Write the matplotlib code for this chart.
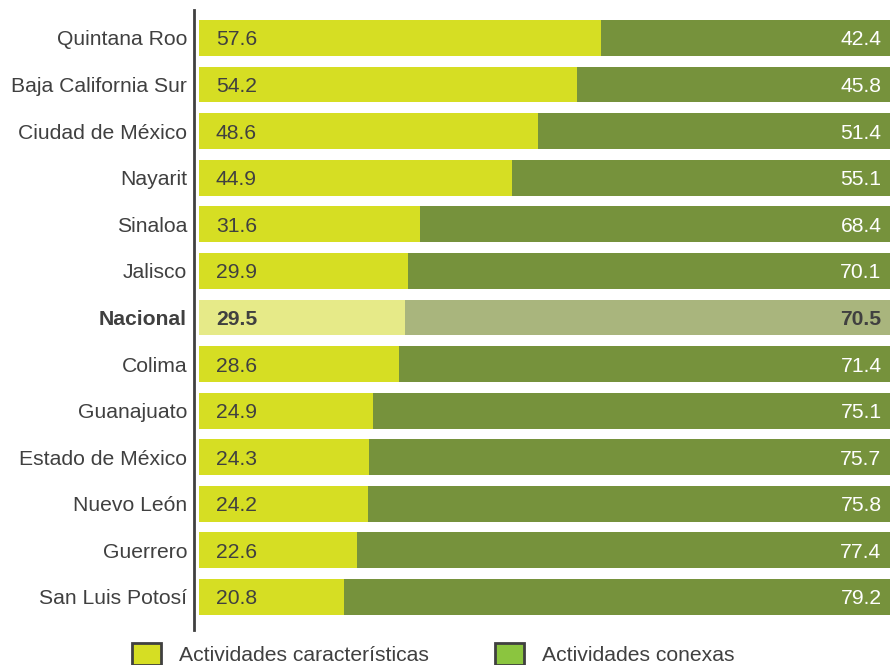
import matplotlib.pyplot as plt
from matplotlib.patches import Patch

plt.rcParams['font.family'] = ['Liberation Sans', 'DejaVu Sans']

estados = ['Quintana Roo', 'Baja California Sur', 'Ciudad de México', 'Nayarit',
           'Sinaloa', 'Jalisco', 'Nacional', 'Colima', 'Guanajuato',
           'Estado de México', 'Nuevo León', 'Guerrero', 'San Luis Potosí']
caracteristicas = [57.6, 54.2, 48.6, 44.9, 31.6, 29.9, 29.5, 28.6, 24.9, 24.3, 24.2, 22.6, 20.8]
conexas = [42.4, 45.8, 51.4, 55.1, 68.4, 70.1, 70.5, 71.4, 75.1, 75.7, 75.8, 77.4, 79.2]

amarillo, verde = '#D6DE23', '#76923C'
amarillo_nac, verde_nac = '#E6EA88', '#A9B57D'
gris = '#404040'
fs = 15.2

fig = plt.figure(figsize=(8.9, 6.65), dpi=100)
ax = fig.add_axes([194 / 890, 1 - 630 / 665, 696 / 890, 620 / 665])

for i, (est, a, b) in enumerate(zip(estados, caracteristicas, conexas)):
    nac = est == 'Nacional'
    ax.barh(i, a, height=0.77, color=amarillo_nac if nac else amarillo)
    ax.barh(i, b, left=a, height=0.77, color=verde_nac if nac else verde)
    w = 'bold' if nac else 'normal'
    ax.text(2.4, i, f'{a:.1f}', ha='left', va='center_baseline', fontsize=fs,
            color=gris, fontweight=w)
    ax.text(97.8, i, f'{b:.1f}', ha='right', va='center_baseline', fontsize=fs,
            color=gris if nac else 'white', fontweight=w)

ax.set_xlim(-0.72, 99.0)
ax.set_ylim(12.71, -0.6)
ax.set_yticks(range(len(estados)))
ax.set_yticklabels(estados, fontsize=fs, color=gris, va='center_baseline')
for lbl in ax.get_yticklabels():
    if lbl.get_text() == 'Nacional':
        lbl.set_fontweight('bold')
ax.tick_params(axis='y', length=0, pad=5)
ax.set_xticks([])
for s in ['top', 'right', 'bottom']:
    ax.spines[s].set_visible(False)
ax.spines['left'].set_color(gris)
ax.spines['left'].set_linewidth(2)

# leyenda al pie
handles = [Patch(facecolor=amarillo, edgecolor=gris, linewidth=2),
           Patch(facecolor='#8BC53F', edgecolor=gris, linewidth=2)]
fig.legend(handles, ['Actividades características', 'Actividades conexas'],
           loc='upper left', bbox_to_anchor=(124 / 890, 1 - 635 / 665), ncol=2,
           frameon=False, fontsize=fs, handlelength=1.36, handleheight=1.2,
           handletextpad=0.85, columnspacing=3.15, borderaxespad=0, labelcolor=gris)

fig.savefig('out.png', dpi=100)
